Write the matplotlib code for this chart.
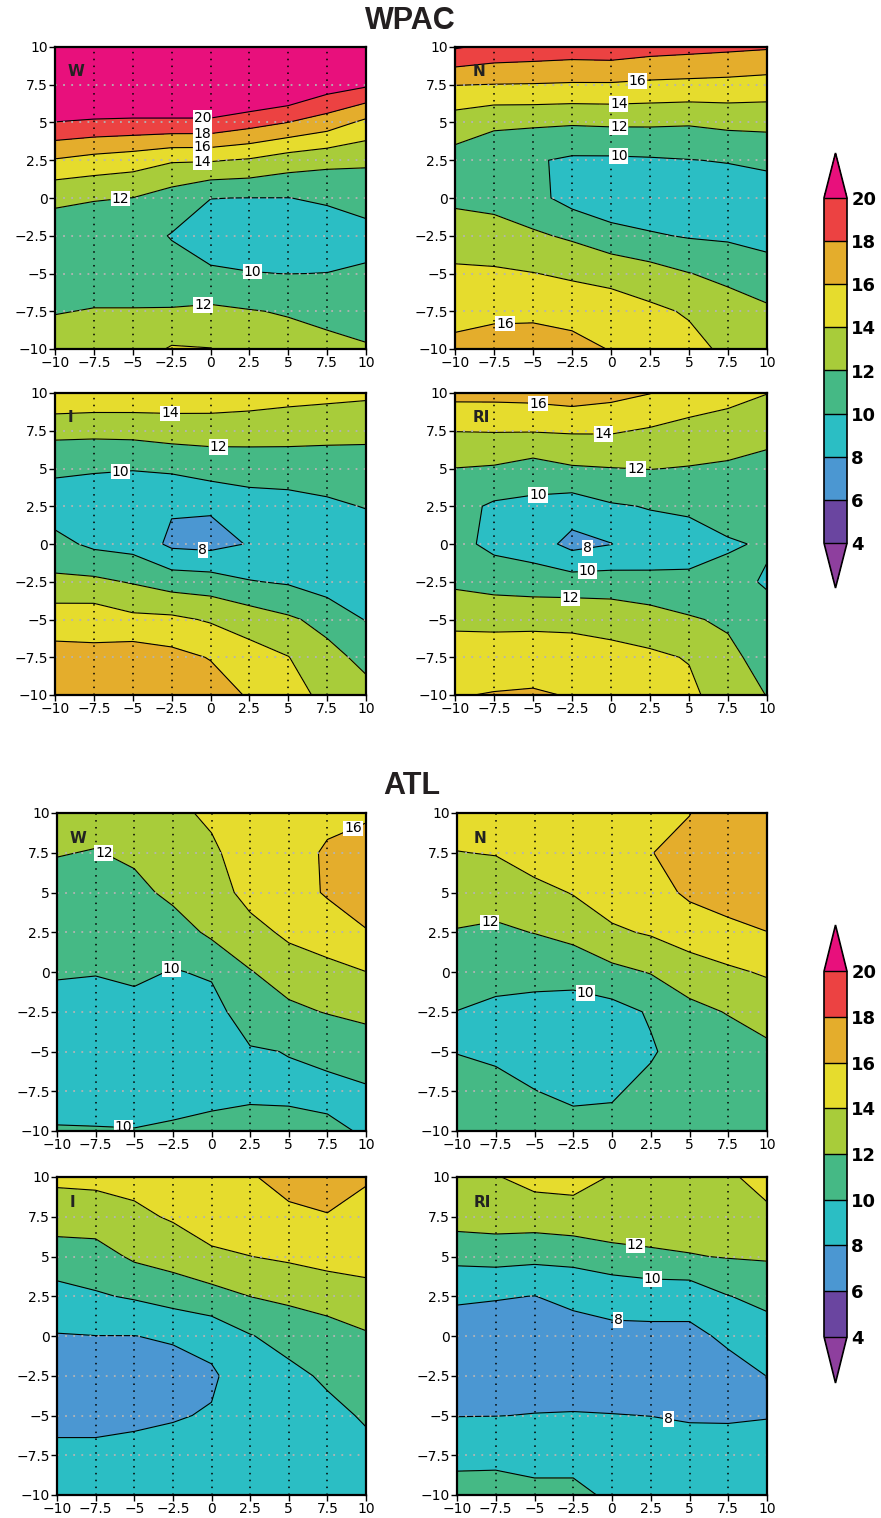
import numpy as np
import matplotlib
matplotlib.use("Agg")
import matplotlib.pyplot as plt
from matplotlib.colors import ListedColormap, BoundaryNorm

plt.rcParams['font.family'] = ['DejaVu Sans']

# grid nodes (x and y), same for every panel
grid = [-10, -7.5, -5, -2.5, 0, 2.5, 5, 7.5, 10]
tick_text = ['\u221210', '\u22127.5', '\u22125', '\u22122.5', '0', '2.5', '5', '7.5', '10']
levels = [4, 6, 8, 10, 12, 14, 16, 18, 20]

# values, rows go from y=-10 (first) to y=10 (last)
wpac_w = [
    [13.0, 13.0, 13.0, 14.2, 14.05, 13.2, 12.8, 12.4, 12.15],
    [11.9, 12.1, 12.1, 12.15, 12.4, 12.1, 11.85, 11.6, 11.3],
    [11.0, 11.0, 11.0, 10.7, 10.2, 10.05, 9.98, 10.02, 10.2],
    [11.2, 11.0, 10.8, 9.9, 9.3, 9.2, 9.1, 9.2, 9.5],
    [12.3, 12.1, 11.98, 11.1, 10.02, 9.98, 9.98, 10.2, 10.6],
    [15.85, 15.3, 14.9, 14.2, 14.15, 13.8, 13.0, 12.57, 12.35],
    [19.95, 19.7, 19.6, 19.6, 19.6, 18.8, 17.98, 17.04, 15.52],
    [23, 23, 23, 23, 23, 23, 22.5, 21.0, 20.3],
    [24, 24, 24, 24, 24, 24, 24, 23, 22],
]
wpac_n = [
    [16.47, 16.85, 16.9, 16.7, 15.9, 15.2, 14.6, 13.6, 13.4],
    [15.4, 15.57, 15.6, 15.25, 14.9, 14.4, 13.8, 12.9, 12.3],
    [14.33, 14.28, 14.05, 13.7, 13.4, 12.8, 12.05, 11.5, 10.9],
    [13.05, 12.78, 12.3, 11.7, 10.7, 10.2, 9.85, 9.7, 9.3],
    [11.6, 11.4, 10.6, 9.3, 8.7, 8.6, 8.7, 8.9, 9.0],
    [11.3, 10.9, 10.2, 9.7, 9.7, 9.8, 9.95, 10.1, 10.4],
    [13.0, 12.31, 12.3, 12.2, 12.3, 12.3, 12.2, 12.5, 12.55],
    [16.05, 15.95, 15.9, 15.8, 15.8, 15.6, 15.5, 15.4, 15.2],
    [20.2, 19.5, 19.3, 19.1, 19.2, 18.8, 18.6, 18.4, 18.2],
]
wpac_i = [
    [17.3, 17.2, 17.5, 17.3, 17.0, 15.8, 14.9, 13.4, 12.6],
    [16.6, 16.5, 17.1, 16.6, 15.9, 14.8, 14.05, 12.6, 11.5],
    [15.2, 15.2, 14.47, 14.4, 13.8, 13.1, 12.3, 11.4, 9.9],
    [12.42, 12.4, 11.85, 11.1, 10.9, 10.1, 9.8, 9.0, 8.9],
    [10.6, 9.6, 9.3, 7.6, 7.4, 8.1, 8.7, 8.6, 8.7],
    [9.0, 8.7, 8.4, 8.2, 8.2, 9.2, 9.3, 9.6, 10.1],
    [10.34, 10.2, 10.1, 10.3, 10.9, 10.8, 10.9, 11.2, 11.3],
    [12.55, 12.5, 12.6, 12.9, 12.8, 12.9, 12.8, 12.5, 12.4],
    [15.8, 15.6, 15.5, 15.3, 15.4, 15.0, 14.7, 14.6, 14.4],
]
wpac_ri = [
    [15.9, 16.1, 16.2, 15.9, 15.2, 14.9, 14.4, 13.1, 11.95],
    [14.9, 15.0, 15.1, 14.9, 14.6, 14.3, 13.9, 12.5, 11.2],
    [13.6, 13.5, 13.5, 13.5, 13.3, 13.0, 12.2, 11.7, 10.7],
    [11.6, 11.2, 11.0, 10.9, 10.9, 10.4, 10.5, 10.6, 9.8],
    [10.6, 9.5, 9.0, 7.4, 7.95, 9.1, 9.0, 9.8, 10.2],
    [10.7, 9.7, 9.5, 9.0, 9.8, 10.1, 10.4, 10.9, 11.0],
    [11.97, 11.8, 11.2, 11.8, 11.95, 12.05, 11.9, 11.6, 11.6],
    [14.05, 14.1, 14.1, 14.2, 14.2, 13.8, 13.4, 13.5, 12.4],
    [16.6, 16.6, 16.7, 17.0, 16.6, 16.05, 15.1, 14.35, 14.05],
]
atl_w = [
    [10.2, 10.15, 10.1, 10.3, 10.5, 10.6, 10.5, 10.3, 9.85],
    [8.9, 8.9, 8.8, 9.2, 9.5, 9.7, 9.7, 9.6, 9.8],
    [8.8, 8.7, 8.6, 8.8, 9.0, 9.85, 10.05, 10.4, 10.9],
    [9.2, 9.1, 9.3, 9.3, 9.4, 10.9, 11.6, 12.1, 12.5],
    [10.2, 10.1, 10.4, 9.9, 10.2, 11.9, 12.9, 13.5, 13.98],
    [10.7, 10.6, 10.9, 11.0, 12.4, 13.3, 14.4, 14.9, 15.9],
    [11.2, 11.2, 11.4, 12.5, 13.0, 14.7, 15.1, 16.2, 16.9],
    [12.1, 11.9, 12.4, 13.2, 13.6, 15.2, 15.5, 16.15, 16.6],
    [13.0, 12.8, 13.2, 13.5, 14.4, 15.4, 15.6, 15.7, 15.8],
]
atl_n = [
    [11.0, 11.0, 10.9, 10.5, 10.5, 10.9, 11.0, 11.2, 11.3],
    [10.7, 10.5, 10.03, 9.7, 9.8, 10.5, 10.8, 11.0, 11.3],
    [9.95, 9.7, 9.4, 9.3, 9.2, 9.8, 10.9, 11.1, 11.6],
    [9.97, 9.5, 9.4, 9.4, 9.3, 10.2, 11.5, 12.1, 12.8],
    [11.0, 10.8, 10.6, 10.5, 11.5, 12.1, 13.0, 13.7, 14.2],
    [11.9, 11.7, 12.05, 12.7, 13.7, 14.2, 15.0, 15.4, 15.98],
    [12.9, 12.8, 13.4, 14.1, 15.0, 15.3, 16.3, 17.0, 17.0],
    [13.95, 14.1, 15.0, 15.2, 15.6, 15.95, 16.6, 17.3, 17.4],
    [15.0, 15.2, 15.6, 15.7, 15.8, 15.6, 15.95, 17.2, 17.4],
]
atl_i = [
    [8.9, 8.9, 8.9, 8.9, 8.9, 9.0, 9.1, 9.2, 9.3],
    [8.4, 8.4, 8.6, 8.7, 8.8, 8.9, 9.0, 9.2, 9.5],
    [7.5, 7.5, 7.6, 7.85, 8.15, 8.6, 9.0, 9.5, 10.2],
    [7.4, 7.4, 7.3, 7.3, 7.7, 9.2, 9.5, 10.3, 11.0],
    [7.9, 7.98, 7.98, 8.2, 8.7, 9.9, 10.7, 11.2, 11.8],
    [9.3, 9.8, 10.2, 10.8, 11.3, 12.02, 12.4, 12.8, 13.3],
    [11.1, 11.2, 12.3, 12.8, 13.6, 13.98, 14.3, 14.7, 14.8],
    [12.9, 13.0, 13.6, 14.2, 15.1, 15.2, 15.5, 15.9, 15.5],
    [14.4, 14.5, 14.6, 15.0, 15.5, 15.8, 16.8, 16.9, 16.15],
]
atl_ri = [
    [10.6, 10.5, 10.3, 10.3, 9.8, 9.4, 9.3, 9.3, 9.4],
    [9.6, 9.7, 9.6, 9.6, 9.3, 9.0, 8.9, 8.8, 9.0],
    [7.95, 7.97, 8.05, 8.1, 8.05, 7.98, 7.8, 7.8, 7.9],
    [7.3, 7.3, 7.2, 7.1, 7.0, 7.0, 7.0, 7.4, 8.02],
    [7.3, 7.2, 7.1, 7.3, 7.6, 7.6, 7.6, 8.3, 9.2],
    [8.2, 8.1, 7.98, 8.4, 8.6, 8.7, 8.7, 9.95, 10.5],
    [10.55, 10.7, 10.5, 10.6, 11.2, 11.7, 11.9, 12.1, 12.2],
    [12.85, 13.0, 13.0, 13.3, 13.5, 13.0, 13.0, 13.3, 13.7],
    [13.6, 13.9, 14.6, 14.6, 13.9, 13.6, 13.6, 13.8, 14.5],
]

# where the contour labels sit (near the line they belong to)
lab_wpac_w = [(-0.5, 5.4), (-0.5, 4.4), (-0.5, 3.4), (-0.5, 2.3), (-5.8, -0.1), (2.7, -4.85), (-0.5, -6.95)]
lab_wpac_n = [(1.7, 7.8), (0.5, 6.2), (0.5, 4.6), (0.5, 2.8), (-6.8, -8.3)]
lab_wpac_i = [(-2.6, 8.7), (0.5, 6.5), (-5.8, 4.8), (-0.5, -0.6)]
lab_wpac_ri = [(-4.7, 9.1), (-0.5, 7.2), (1.6, 4.85), (-4.7, 3.6), (-1.5, -0.4), (-1.5, -1.9), (-2.6, -3.5)]
lab_atl_w = [(-6.8, 7.8), (-2.6, 0.2), (-5.7, -9.7), (9.0, 9.4)]
lab_atl_n = [(-7.9, 3.2), (-1.6, -0.9)]
lab_atl_i = []
lab_atl_ri = [(1.5, 5.6), (2.6, 3.5), (0.4, 1.0), (3.7, -4.9)]

colors = ['#6a45a0', '#4b97d2', '#2bbec4', '#45b985', '#a8cc3a',
          '#e6dc2d', '#e4ad2c', '#ec4242']
cmap = ListedColormap(colors)
cmap.set_under('#8e3f9e')
cmap.set_over('#e8107c')
norm = BoundaryNorm(levels, cmap.N)

W, H = 881, 1518
fig = plt.figure(figsize=(W / 100, H / 100), dpi=100)


def px_axes(left, top, w, h):
    return fig.add_axes([left / W, 1 - (top + h) / H, w / W, h / H])


def panel(rect, z, letter, labs, lx):
    ax = px_axes(*rect)
    X, Y = np.meshgrid(grid, grid)
    Z = np.array(z)
    cf = ax.contourf(X, Y, Z, levels=levels, cmap=cmap, norm=norm, extend='both')
    cs = ax.contour(X, Y, Z, levels=levels, colors='k', linewidths=0.8)
    if labs:
        texts = ax.clabel(cs, fmt='%d', fontsize=10, inline=True,
                          inline_spacing=1, manual=labs)
        for t in texts:
            t.set_rotation(0)
            t.set_bbox(dict(facecolor='white', edgecolor='none', pad=0.6))
    # dotted guide lines
    for g in grid[1:-1]:
        ax.axvline(g, color='k', lw=1.1, ls=(0, (1, 3.5)), zorder=3)
        ax.axhline(g, color='#b4b4b4', lw=1.3, ls=(0, (1, 3.5)), zorder=3)
    ax.set_xlim(-10, 10)
    ax.set_ylim(-10, 10)
    ax.set_xticks(grid)
    ax.set_yticks(grid)
    ax.set_xticklabels(tick_text)
    ax.set_yticklabels(tick_text)
    ax.tick_params(direction='out', length=4, width=1, labelsize=10, pad=1)
    for s in ax.spines.values():
        s.set_linewidth(1.6)
        s.set_zorder(5)
    ax.text(lx, 0.92, letter, transform=ax.transAxes, fontsize=11,
            fontweight='bold', ha='left', va='center', color='#222222', zorder=6)
    return cf


cf = panel((55, 47, 311, 302), wpac_w, 'W', lab_wpac_w, 0.04)
panel((455, 47, 312, 302), wpac_n, 'N', lab_wpac_n, 0.055)
panel((55, 393, 311, 302), wpac_i, 'I', lab_wpac_i, 0.04)
panel((455, 393, 312, 302), wpac_ri, 'RI', lab_wpac_ri, 0.055)
panel((57, 813, 309, 318), atl_w, 'W', lab_atl_w, 0.04)
panel((457, 813, 310, 318), atl_n, 'N', lab_atl_n, 0.055)
panel((57, 1177, 309, 318), atl_i, 'I', lab_atl_i, 0.04)
panel((457, 1177, 310, 318), atl_ri, 'RI', lab_atl_ri, 0.055)

for top, h, ef in [(153, 435, 0.13), (925, 458, 0.127)]:
    cax = px_axes(824, top, 23, h)
    cb = fig.colorbar(cf, cax=cax, extend='both', extendfrac=ef,
                      drawedges=True, ticks=levels)
    cb.outline.set_linewidth(1.2)
    cb.dividers.set_linewidth(1.0)
    cb.ax.tick_params(length=0, labelsize=13, pad=3)
    for t in cb.ax.get_yticklabels():
        t.set_fontweight('bold')

fig.text(410 / W, 1 - 21 / H, 'WPAC', ha='center', va='center', fontsize=22,
         fontweight='bold', family=['Liberation Sans'], color='#231f20')
fig.text(412 / W, 1 - 786 / H, 'ATL', ha='center', va='center', fontsize=22,
         fontweight='bold', family=['Liberation Sans'], color='#231f20')

fig.savefig('out.png', dpi=100)
